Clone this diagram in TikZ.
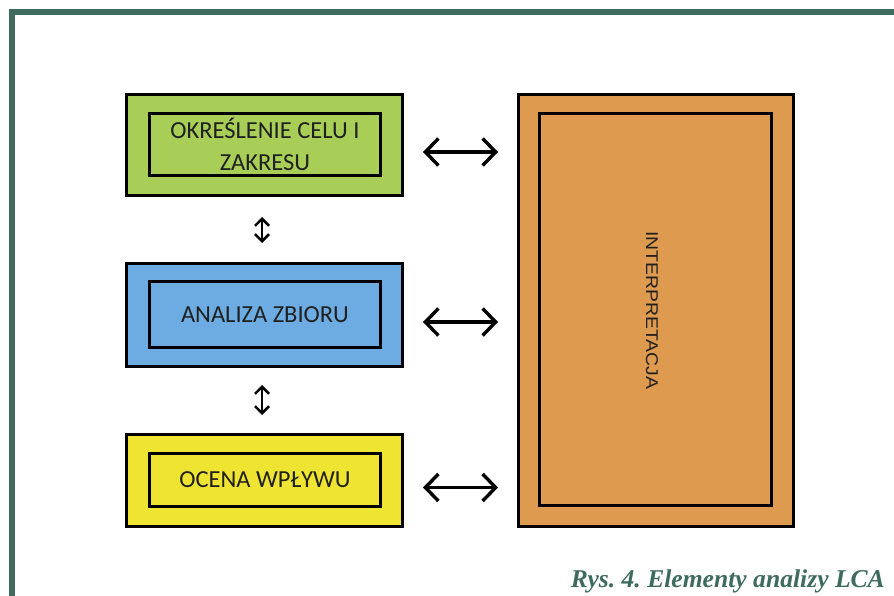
\documentclass[tikz,border=0pt]{standalone}
\usepackage{fontspec}
\setmainfont{Carlito}
\newfontfamily\capfont{Liberation Serif}
\newfontfamily\vertfont{Liberation Sans}
\usetikzlibrary{arrows.meta}

\definecolor{frame}{RGB}{62,107,94}
\definecolor{boxgreen}{RGB}{168,206,88}
\definecolor{boxblue}{RGB}{108,172,226}
\definecolor{boxyellow}{RGB}{240,228,50}
\definecolor{boxorange}{RGB}{222,154,78}
\definecolor{ink}{RGB}{32,32,32}

\begin{document}
\frenchspacing
\begin{tikzpicture}[x=1pt,y=-1pt,
  outerbox/.style={draw=black, line width=3pt, rectangle, inner sep=0pt, minimum width=276pt},
  innerbox/.style={draw=black, line width=3pt, rectangle, inner sep=0pt, minimum width=231pt,
    text=ink, align=center, font=\fontsize{24.5}{32}\selectfont},
  link/.style={line width=3.4pt, {Straight Barb[length=13pt,width=27pt]}-{Straight Barb[length=13pt,width=27pt]}},
  vlink/.style={line width=2.6pt, {Straight Barb[length=7pt,width=14pt]}-{Straight Barb[length=7pt,width=14pt]}}
]
\useasboundingbox (0,0) rectangle (894,596);

% page frame (top and left rules)
\fill[frame] (9.3,9.3) rectangle (894,14.7);
\fill[frame] (9.3,9.3) rectangle (14.7,596);

% left column: outer frames
\node[outerbox, fill=boxgreen,  minimum height=101pt] (scope) at (264.5,145)   {};
\node[outerbox, fill=boxblue,   minimum height=103pt] (inv)   at (264.5,315)   {};
\node[outerbox, fill=boxyellow, minimum height=92pt]  (imp)   at (264.5,480.5) {};

% left column: inner frames with labels
\node[innerbox, minimum height=62pt] (scopeIn) at (265,144.5) {OKREŚLENIE CELU I\\ZAKRESU};
\node[innerbox, minimum height=66pt] (invIn)   at (265,314.5) {ANALIZA ZBIORU};
\node[innerbox, minimum height=53pt] (impIn)   at (265,480)   {\raisebox{-2pt}{OCENA WPŁYWU}};

% interpretation column
\node[outerbox, fill=boxorange, minimum width=275pt, minimum height=432pt] (interp) at (656,310.5) {};
\node[draw=black, line width=3pt, rectangle, inner sep=0pt, minimum width=232pt, minimum height=392pt] (interpIn) at (655.5,309.5) {};
\node[rotate=-90, text=ink, inner sep=0pt, font=\vertfont\fontsize{17}{20}\selectfont] (interpText) at (652,310)
  {\scalebox{1.14}[1]{INTERPRETACJA}};

% links to the interpretation phase
\draw[link, shorten <=19pt, shorten >=19pt] ([yshift=-7pt]scope.east) -- ([yshift=-7pt]scope.east -| interp.west);
\draw[link, shorten <=19pt, shorten >=19pt] ([yshift=-7pt]inv.east)   -- ([yshift=-7pt]inv.east -| interp.west);
\draw[link, shorten <=19pt, shorten >=19pt] ([yshift=-7pt]imp.east)   -- ([yshift=-7pt]imp.east -| interp.west);

% links between consecutive phases
\draw[vlink, shorten <=20pt, shorten >=19pt] ([xshift=-2.5pt]scope.south) -- ([xshift=-2.5pt]inv.north);
\draw[vlink, shorten <=17pt, shorten >=18pt] ([xshift=-2.5pt]inv.south)   -- ([xshift=-2.5pt]imp.north);

% caption
\node[anchor=base east, text=frame, inner sep=0pt, font=\capfont\bfseries\itshape\fontsize{25.6}{30}\selectfont] (caption) at (885,587)
  {Rys. 4. Elementy analizy LCA};
\end{tikzpicture}
\end{document}
